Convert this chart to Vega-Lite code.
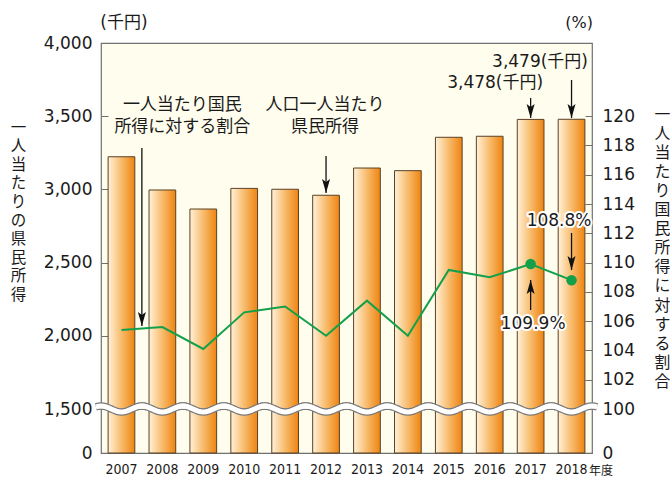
{
  "$schema": "https://vega.github.io/schema/vega-lite/v6.json",
  "width": 491,
  "height": 410,
  "autosize": "none",
  "padding": {"left": 101, "top": 43, "right": 78, "bottom": 29},
  "background": "white",
  "config": {
    "font": "DejaVu Sans, Noto Sans CJK JP",
    "view": {"fill": "#fffdee", "stroke": "#707070", "strokeWidth": 1.2},
    "axis": {"labelFont": "DejaVu Sans, Noto Sans CJK JP", "labelColor": "#1a1a1a", "titleColor": "#1a1a1a", "grid": false, "labelOverlap": false},
    "text": {"font": "DejaVu Sans, Noto Sans CJK JP", "fontSize": 17, "color": "#1a1a1a"}
  },
  "datasets": {
    "income": [
      {"year": "2007", "income": 3223, "pct": 105.4},
      {"year": "2008", "income": 2996, "pct": 105.6},
      {"year": "2009", "income": 2866, "pct": 104.1},
      {"year": "2010", "income": 3007, "pct": 106.6},
      {"year": "2011", "income": 3001, "pct": 107.0},
      {"year": "2012", "income": 2960, "pct": 105.0},
      {"year": "2013", "income": 3146, "pct": 107.4},
      {"year": "2014", "income": 3128, "pct": 105.0},
      {"year": "2015", "income": 3356, "pct": 109.5},
      {"year": "2016", "income": 3363, "pct": 109.0},
      {"year": "2017", "income": 3478, "pct": 109.9},
      {"year": "2018", "income": 3479, "pct": 108.8}
    ],
    "arrows": [
      {"year": "2012", "tail": 3228, "tip": 2975, "dir": "down"},
      {"year": "2017", "tail": 3624, "tip": 3488, "dir": "down"},
      {"year": "2018", "tail": 3747, "tip": 3488, "dir": "down"},
      {"year": "2018", "tail": 2702, "tip": 2449, "dir": "down"},
      {"year": "2017", "tail": 2176, "tip": 2381, "dir": "up"}
    ],
    "arrowA": [
      {"year": "2008", "tail": 3283, "tip": 2067, "dir": "down"}
    ]
  },
  "data": {"name": "income"},
  "layer": [
    {
      "layer": [
        {
          "mark": {
            "type": "bar",
            "color": {"gradient": "linear", "x1": 0, "y1": 0, "x2": 1, "y2": 0,
              "stops": [{"offset": 0, "color": "#fff1d8"}, {"offset": 0.5, "color": "#f8bb6c"}, {"offset": 1, "color": "#ee8410"}]},
            "stroke": "#5a4026",
            "strokeWidth": 1
          },
          "encoding": {
            "x": {
              "field": "year", "type": "nominal",
              "scale": {"domain": ["2007","2008","2009","2010","2011","2012","2013","2014","2015","2016","2017","2018"], "paddingInner": 0.347, "paddingOuter": 0.1735},
              "axis": {"title": null, "labelAngle": 0, "ticks": false, "domain": false, "labelPadding": 9,
                "labelFont": "DejaVu Sans Condensed", "labelFontSize": 14},
              "title": null
            },
            "y": {
              "field": "income", "type": "quantitative",
              "scale": {"domain": [0, 1500, 4000], "range": [410, 366, 0], "nice": false, "zero": false},
              "title": ["一","人","当","た","り","の","県","民","所","得"],
              "axis": {
                "orient": "left", "values": [0, 1500, 2000, 2500, 3000, 3500, 4000],
                "labelExpr": "format(datum.value, ',')",
                "labelFontSize": 17, "labelPadding": 16, "labelFlush": false, "labelOverlap": false,
                "tickSize": -7, "tickColor": "#707070", "domain": false,
                "titleAngle": 0, "titleX": -83, "titleY": 84, "titleAlign": "center", "titleBaseline": "middle",
                "titleFont": "Noto Sans CJK JP", "titleFontSize": 15.5, "titleFontWeight": "normal", "titleLineHeight": 18.6
              }
            }
          }
        },
        {
          "mark": {"type": "point", "shape": "M-1.25,-0.104L-1.125,-0.136L-1,-0.147L-0.875,-0.136L-0.75,-0.104L-0.625,-0.056L-0.5,0L-0.375,0.056L-0.25,0.104L-0.125,0.136L0,0.147L0.125,0.136L0.25,0.104L0.375,0.056L0.5,0L0.625,-0.056L0.75,-0.104L0.875,-0.136L1,-0.147L1.125,-0.136L1.25,-0.104",
            "size": 1674, "filled": false, "color": "#7a7a7a", "strokeWidth": 7.5, "opacity": 1, "strokeCap": "butt"},
          "encoding": {
            "x": {"field": "year", "type": "nominal"},
            "y": {"datum": 1500, "type": "quantitative"}
          }
        },
        {
          "mark": {"type": "point", "shape": "M-1.25,-0.104L-1.125,-0.136L-1,-0.147L-0.875,-0.136L-0.75,-0.104L-0.625,-0.056L-0.5,0L-0.375,0.056L-0.25,0.104L-0.125,0.136L0,0.147L0.125,0.136L0.25,0.104L0.375,0.056L0.5,0L0.625,-0.056L0.75,-0.104L0.875,-0.136L1,-0.147L1.125,-0.136L1.25,-0.104",
            "size": 1674, "filled": false, "color": "#ffffff", "strokeWidth": 5, "opacity": 1, "strokeCap": "butt"},
          "encoding": {
            "x": {"field": "year", "type": "nominal"},
            "y": {"datum": 1500, "type": "quantitative"}
          }
        },
        {
          "data": {"name": "arrows"},
          "mark": {"type": "rule", "color": "#111111", "strokeWidth": 1.3},
          "encoding": {
            "x": {"field": "year", "type": "nominal"},
            "y": {"field": "tail", "type": "quantitative"},
            "y2": {"field": "tip"}
          }
        },
        {
          "data": {"name": "arrows"},
          "mark": {"type": "point", "filled": true, "color": "#111111", "size": 100, "opacity": 1},
          "encoding": {
            "x": {"field": "year", "type": "nominal"},
            "y": {"field": "tip", "type": "quantitative"},
            "shape": {"field": "dir", "type": "nominal", "legend": null,
              "scale": {"domain": ["down", "up"], "range": ["M0,0L-0.8,-2.8L0,-2.2L0.8,-2.8Z", "M0,0L-0.8,2.8L0,2.2L0.8,2.8Z"]}}
          }
        },
        {
          "data": {"name": "arrowA"},
          "mark": {"type": "rule", "color": "#111111", "strokeWidth": 1.3, "xOffset": -20.5},
          "encoding": {
            "x": {"field": "year", "type": "nominal"},
            "y": {"field": "tail", "type": "quantitative"},
            "y2": {"field": "tip"}
          }
        },
        {
          "data": {"name": "arrowA"},
          "mark": {"type": "point", "filled": true, "color": "#111111", "size": 100, "opacity": 1, "xOffset": -20.5, "shape": "M0,0L-0.8,-2.8L0,-2.2L0.8,-2.8Z"},
          "encoding": {
            "x": {"field": "year", "type": "nominal"},
            "y": {"field": "tip", "type": "quantitative"}
          }
        },
        {
          "data": {"values": [{"year": "2008", "v": 3576, "t": "一人当たり国民"}, {"year": "2008", "v": 3426, "t": "所得に対する割合"}]},
          "mark": {"type": "text", "dx": 20, "align": "center", "baseline": "middle", "font": "Noto Sans CJK JP", "fontSize": 17},
          "encoding": {
            "x": {"field": "year", "type": "nominal"},
            "y": {"field": "v", "type": "quantitative"},
            "text": {"field": "t"}
          }
        },
        {
          "data": {"values": [{"year": "2012", "v": 3576, "t": "人口一人当たり"}, {"year": "2012", "v": 3426, "t": "県民所得"}]},
          "mark": {"type": "text", "dx": -1, "align": "center", "baseline": "middle", "font": "Noto Sans CJK JP", "fontSize": 17},
          "encoding": {
            "x": {"field": "year", "type": "nominal"},
            "y": {"field": "v", "type": "quantitative"},
            "text": {"field": "t"}
          }
        },
        {
          "data": {"values": [{"year": "2018", "v": 3870, "t": "3,479(千円)"}]},
          "mark": {"type": "text", "dx": -31.5, "align": "center", "baseline": "middle"},
          "encoding": {
            "x": {"field": "year", "type": "nominal"},
            "y": {"field": "v", "type": "quantitative"},
            "text": {"field": "t"}
          }
        },
        {
          "data": {"values": [{"year": "2017", "v": 3727, "t": "3,478(千円)"}]},
          "mark": {"type": "text", "dx": -35.5, "align": "center", "baseline": "middle"},
          "encoding": {
            "x": {"field": "year", "type": "nominal"},
            "y": {"field": "v", "type": "quantitative"},
            "text": {"field": "t"}
          }
        },
        {
          "data": {"values": [{"year": "2018", "v": 2784, "t": "108.8%"}]},
          "mark": {"type": "text", "dx": -12.5, "align": "center", "baseline": "middle", "stroke": "#ffffff", "strokeWidth": 4, "strokeJoin": "round", "color": "#ffffff"},
          "encoding": {
            "x": {"field": "year", "type": "nominal"},
            "y": {"field": "v", "type": "quantitative"},
            "text": {"field": "t"}
          }
        },
        {
          "data": {"values": [{"year": "2018", "v": 2784, "t": "108.8%"}]},
          "mark": {"type": "text", "dx": -12.5, "align": "center", "baseline": "middle"},
          "encoding": {
            "x": {"field": "year", "type": "nominal"},
            "y": {"field": "v", "type": "quantitative"},
            "text": {"field": "t"}
          }
        },
        {
          "data": {"values": [{"year": "2017", "v": 2080, "t": "109.9%"}]},
          "mark": {"type": "text", "dx": 2.5, "align": "center", "baseline": "middle", "stroke": "#ffffff", "strokeWidth": 4, "strokeJoin": "round", "color": "#ffffff"},
          "encoding": {
            "x": {"field": "year", "type": "nominal"},
            "y": {"field": "v", "type": "quantitative"},
            "text": {"field": "t"}
          }
        },
        {
          "data": {"values": [{"year": "2017", "v": 2080, "t": "109.9%"}]},
          "mark": {"type": "text", "dx": 2.5, "align": "center", "baseline": "middle"},
          "encoding": {
            "x": {"field": "year", "type": "nominal"},
            "y": {"field": "v", "type": "quantitative"},
            "text": {"field": "t"}
          }
        },
        {
          "data": {"values": [{"year": "2007", "t": "(千円)"}]},
          "mark": {"type": "text", "dx": 2.5, "dy": -20, "align": "center", "baseline": "middle"},
          "encoding": {
            "x": {"field": "year", "type": "nominal"},
            "y": {"datum": 4000, "type": "quantitative"},
            "text": {"field": "t"}
          }
        },
        {
          "data": {"values": [{"year": "2018", "t": "(%)"}]},
          "mark": {"type": "text", "dx": 7.5, "dy": -20, "align": "center", "baseline": "middle", "fontSize": 16},
          "encoding": {
            "x": {"field": "year", "type": "nominal"},
            "y": {"datum": 4000, "type": "quantitative"},
            "text": {"field": "t"}
          }
        },
        {
          "data": {"values": [{"year": "2018", "t": "年度"}]},
          "mark": {"type": "text", "dx": 17.5, "dy": 18, "align": "left", "baseline": "middle", "fontSize": 12, "font": "Noto Sans CJK JP"},
          "encoding": {
            "x": {"field": "year", "type": "nominal"},
            "y": {"datum": 0, "type": "quantitative"},
            "text": {"field": "t"}
          }
        }
      ]
    },
    {
      "layer": [
        {
          "mark": {"type": "line", "color": "#14a04a", "strokeWidth": 2},
          "encoding": {
            "x": {"field": "year", "type": "nominal"},
            "y": {
              "field": "pct", "type": "quantitative",
              "scale": {"domain": [0, 100, 125], "range": [410, 366, 0], "nice": false, "zero": false},
              "title": ["一","人","当","た","り","国","民","所","得","に","対","す","る","割","合"],
              "axis": {
                "orient": "right", "values": [0, 100, 102, 104, 106, 108, 110, 112, 114, 116, 118, 120],
                "labelExpr": "format(datum.value, 'd')",
                "labelFontSize": 17, "labelPadding": 17, "labelFlush": false, "labelOverlap": false, "labelBound": false, "labelSeparation": 0,
                "tickSize": -7, "tickColor": "#707070", "domain": false,
                "titleAngle": 0, "titleX": 70, "titleY": 71, "titleAlign": "center", "titleBaseline": "middle",
                "titleFont": "Noto Sans CJK JP", "titleFontSize": 15.9, "titleFontWeight": "normal", "titleLineHeight": 19.1
              }
            }
          }
        },
        {
          "transform": [{"filter": {"field": "year", "oneOf": ["2017", "2018"]}}],
          "mark": {"type": "point", "filled": true, "color": "#14a04a", "size": 110, "opacity": 1},
          "encoding": {
            "x": {"field": "year", "type": "nominal"},
            "y": {
              "field": "pct", "type": "quantitative",
              "scale": {"domain": [0, 100, 125], "range": [410, 366, 0], "nice": false, "zero": false},
              "title": ["一","人","当","た","り","国","民","所","得","に","対","す","る","割","合"],
              "axis": {
                "orient": "right", "values": [0, 100, 102, 104, 106, 108, 110, 112, 114, 116, 118, 120],
                "labelExpr": "format(datum.value, 'd')",
                "labelFontSize": 17, "labelPadding": 17, "labelFlush": false, "labelOverlap": false, "labelBound": false, "labelSeparation": 0,
                "tickSize": -7, "tickColor": "#707070", "domain": false,
                "titleAngle": 0, "titleX": 70, "titleY": 71, "titleAlign": "center", "titleBaseline": "middle",
                "titleFont": "Noto Sans CJK JP", "titleFontSize": 15.9, "titleFontWeight": "normal", "titleLineHeight": 19.1
              }
            }
          }
        }
      ]
    }
  ],
  "resolve": {"scale": {"y": "independent"}}
}
